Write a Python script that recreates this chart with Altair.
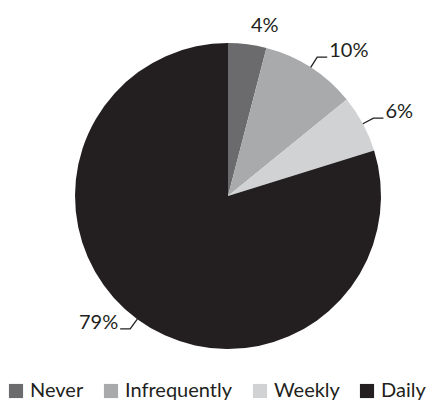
import altair as alt
import pandas as pd
import numpy as np

categories = ["Never", "Infrequently", "Weekly", "Daily"]
values = [4, 10, 6, 79]
labels = ["4%", "10%", "6%", "79%"]
colors = ["#6b6b6d", "#a9aaac", "#d1d2d4", "#231f20"]
leader = [False, True, True, True]

CX, CY, R = 228, 196, 153
R_ELBOW = 165
ARM = 10
FONT = "Lato"

total = sum(values)
cum = np.cumsum([0] + values)
mid = (cum[:-1] + cum[1:]) / 2 / total * 2 * np.pi

pie_df = pd.DataFrame({"cat": categories, "val": values, "ord": range(len(values))})

line_rows = []
text_rows = []
for i, c in enumerate(categories):
    s, co = np.sin(mid[i]), np.cos(mid[i])
    side = 1 if s >= 0 else -1
    ex, ey = CX + R * s, CY - R * co
    bx, by = CX + R_ELBOW * s, CY - R_ELBOW * co
    tx, ty = bx + ARM * side, by
    if leader[i]:
        line_rows += [
            {"cat": c, "step": 0, "x": ex, "y": ey},
            {"cat": c, "step": 1, "x": bx, "y": by},
            {"cat": c, "step": 2, "x": tx, "y": ty},
        ]
        px, py = tx, ty
    else:
        px, py = bx, by
    text_rows.append({"cat": c, "label": labels[i], "x": px + 2 * side, "y": py - 6,
                      "side": "right" if side > 0 else "left"})

line_df = pd.DataFrame(line_rows)
text_df = pd.DataFrame(text_rows)

color_scale = alt.Scale(domain=categories, range=colors)

pie = alt.Chart(pie_df).mark_arc(radius=R).encode(
    theta=alt.Theta("val:Q", stack=True),
    order=alt.Order("ord:Q"),
    color=alt.Color("cat:N", scale=color_scale, sort=categories,
                    legend=alt.Legend(title=None, orient="none", legendX=6, legendY=381,
                                      direction="horizontal", symbolType="square",
                                      symbolSize=200, symbolStrokeWidth=0,
                                      labelFontSize=20, labelFont=FONT, labelColor="#231f20",
                                      columnPadding=17, labelOffset=4)),
    x=alt.value(CX),
    y=alt.value(CY),
)

lines = alt.Chart(line_df).mark_line(color="#231f20", strokeWidth=1.3).encode(
    x=alt.X("x:Q", scale=None),
    y=alt.Y("y:Q", scale=None),
    detail="cat:N",
    order="step:Q",
)

txt_r = alt.Chart(text_df).transform_filter(alt.datum.side == "right").mark_text(
    align="left", baseline="middle", fontSize=20, font=FONT, color="#231f20"
).encode(x=alt.X("x:Q", scale=None), y=alt.Y("y:Q", scale=None), text="label:N")

txt_l = alt.Chart(text_df).transform_filter(alt.datum.side == "left").mark_text(
    align="right", baseline="middle", fontSize=20, font=FONT, color="#231f20"
).encode(x=alt.X("x:Q", scale=None), y=alt.Y("y:Q", scale=None), text="label:N")

chart = alt.layer(pie, lines, txt_r, txt_l).properties(
    width=431, height=403,
    autosize=alt.AutoSizeParams(type="none"),
    padding=0,
    background="white",
).configure_view(stroke=None)

chart.save("out.html", embed_options={"renderer": "svg", "actions": False})
